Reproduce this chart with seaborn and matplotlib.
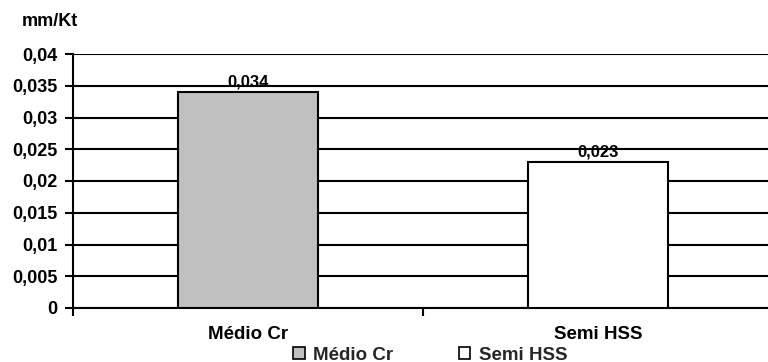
import matplotlib
matplotlib.use("Agg")
import matplotlib.pyplot as plt
import seaborn as sns
import pandas as pd
from matplotlib.patches import Patch
from matplotlib.ticker import FixedLocator, FuncFormatter

categories = ["Médio Cr", "Semi HSS"]
values = [0.034, 0.023]
colors = ["#C0C0C0", "#FFFFFF"]
value_labels = ["0,034", "0,023"]
y_ticks = [0, 0.005, 0.01, 0.015, 0.02, 0.025, 0.03, 0.035, 0.04]

sns.set_theme(style="white")
plt.rcParams["font.family"] = ["Liberation Sans", "DejaVu Sans"]
plt.rcParams["font.weight"] = "bold"

df = pd.DataFrame({"cat": categories, "val": values})

fig = plt.figure(figsize=(7.68, 3.62), dpi=100)
ax = fig.add_axes([73 / 768, 1 - 308 / 362, 700 / 768, 254 / 362])

sns.barplot(data=df, x="cat", y="val", hue="cat", palette=colors,
            width=0.4, edgecolor="black", linewidth=1.5, legend=False,
            saturation=1, ax=ax, zorder=3)

ax.set_xlim(-0.5, 1.5)
ax.set_ylim(0, 0.04)
ax.set_yticks(y_ticks)
ax.yaxis.set_major_formatter(FuncFormatter(
    lambda v, p: "0" if v == 0 else f"{v:g}".replace(".", ",")))
ax.grid(axis="y", color="black", linewidth=1.5, zorder=0)
ax.set_axisbelow(True)

# category boundaries carry the tick marks; names sit at bar centres
ax.xaxis.set_major_locator(FixedLocator([-0.5, 0.5, 1.5]))
ax.xaxis.set_major_formatter(FuncFormatter(lambda v, p: ""))
ax.xaxis.set_minor_locator(FixedLocator([0, 1]))
ax.set_xticklabels(categories, minor=True)
ax.tick_params(axis="x", which="major", direction="out", length=6, width=1.5,
               color="black", bottom=True)
ax.tick_params(axis="x", which="minor", length=0, pad=13, labelsize=13.5)
ax.tick_params(axis="y", direction="out", length=6, width=1.5, color="black",
               left=True, labelsize=13, pad=5)
for lbl in ax.get_xticklabels(minor=True) + ax.get_yticklabels():
    lbl.set_fontweight("bold")
    lbl.set_color("black")

for s in ["top", "right"]:
    ax.spines[s].set_visible(False)
for s in ["left", "bottom"]:
    ax.spines[s].set_color("black")
    ax.spines[s].set_linewidth(1.5)
ax.set_xlabel("")
ax.set_ylabel("")

for i, (v, t) in enumerate(zip(values, value_labels)):
    ax.annotate(t, (i, v), xytext=(0, 2), textcoords="offset points",
                ha="center", va="bottom", fontsize=12, fontweight="bold",
                color="black", zorder=5)

fig.text(22 / 768, 1 - 21 / 362, "mm/Kt", fontsize=13, fontweight="bold",
         va="center", ha="left", color="black")

handles = [Patch(facecolor=c, edgecolor="black", linewidth=1.2) for c in colors]
fig.legend(handles, categories, loc="center left", ncol=2,
           bbox_to_anchor=(293 / 768, 1 - 355 / 362), frameon=False,
           prop={"weight": "bold", "size": 13.5}, handlelength=0.62,
           handleheight=0.62, handletextpad=0.45, columnspacing=3.5,
           borderpad=0, borderaxespad=0)

fig.savefig("out.png", dpi=100, facecolor="white")
